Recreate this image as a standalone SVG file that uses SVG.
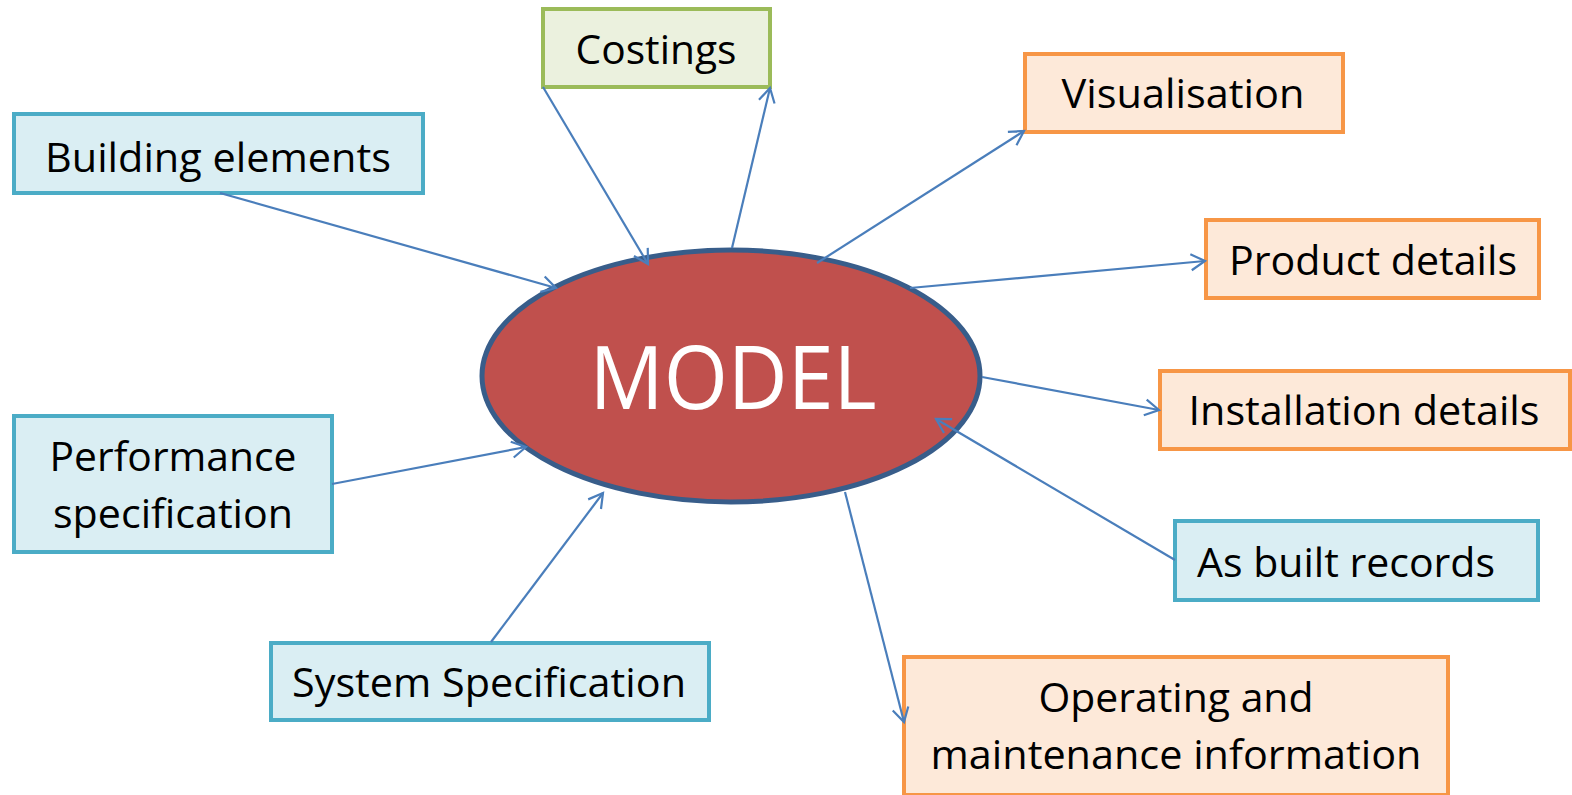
<svg xmlns="http://www.w3.org/2000/svg" width="1572" height="795" viewBox="0 0 1572 795">
<defs>
<marker id="arr" markerWidth="20" markerHeight="20" refX="17" refY="10" orient="auto" markerUnits="userSpaceOnUse">
<path d="M3,2 L17,10 L3,18" fill="none" stroke="#4a7ebb" stroke-width="2.2"/>
</marker>
<style>
.blue{fill:#daeef3;stroke:#4bacc6;stroke-width:4}
.orange{fill:#fde9d9;stroke:#f79646;stroke-width:4}
.green{fill:#ebf1de;stroke:#9bbb59;stroke-width:4}
.t{font-family:"Open Sans","Noto Sans",sans-serif;font-size:40px;fill:#000;text-anchor:middle}
.c{fill:none;stroke:#4a7ebb;stroke-width:2.2;marker-end:url(#arr)}
</style>
</defs>
<rect width="1572" height="795" fill="#fff"/>
<g id="model">
<ellipse cx="731" cy="376" rx="249" ry="126" fill="#c0504d" stroke="#385d8a" stroke-width="5"/>
<text x="733" y="409" font-family="Open Sans,Noto Sans,sans-serif" font-size="88" fill="#fff" text-anchor="middle" textLength="287" lengthAdjust="spacingAndGlyphs">MODEL</text>
</g>
<g id="costings">
<rect class="green" x="543" y="9" width="227" height="78"/>
<text class="t" x="656" y="64" textLength="161" lengthAdjust="spacingAndGlyphs">Costings</text>
</g>
<g id="visualisation">
<rect class="orange" x="1025" y="54" width="318" height="78"/>
<text class="t" x="1183" y="108" textLength="243" lengthAdjust="spacingAndGlyphs">Visualisation</text>
</g>
<g id="building-elements">
<rect class="blue" x="14" y="114" width="409" height="79"/>
<text class="t" x="218" y="172" textLength="346" lengthAdjust="spacingAndGlyphs">Building elements</text>
</g>
<g id="product-details">
<rect class="orange" x="1206" y="220" width="333" height="78"/>
<text class="t" x="1373" y="275" textLength="288" lengthAdjust="spacingAndGlyphs">Product details</text>
</g>
<g id="installation-details">
<rect class="orange" x="1160" y="371" width="410" height="78"/>
<text class="t" x="1364" y="425" textLength="351" lengthAdjust="spacingAndGlyphs">Installation details</text>
</g>
<g id="as-built-records">
<rect class="blue" x="1175" y="521" width="363" height="79"/>
<text class="t" x="1346" y="577" textLength="298" lengthAdjust="spacingAndGlyphs">As built records</text>
</g>
<g id="operating">
<rect class="orange" x="904" y="657" width="544" height="138"/>
<text class="t" x="1176" y="712" textLength="275" lengthAdjust="spacingAndGlyphs">Operating and</text>
<text class="t" x="1176" y="769" textLength="491" lengthAdjust="spacingAndGlyphs">maintenance information</text>
</g>
<g id="performance">
<rect class="blue" x="14" y="416" width="318" height="136"/>
<text class="t" x="173" y="471" textLength="247" lengthAdjust="spacingAndGlyphs">Performance</text>
<text class="t" x="173" y="528" textLength="240" lengthAdjust="spacingAndGlyphs">specification</text>
</g>
<g id="system-specification">
<rect class="blue" x="271" y="643" width="438" height="77"/>
<text class="t" x="489" y="697" textLength="394" lengthAdjust="spacingAndGlyphs">System Specification</text>
</g>
<g id="connectors">
<line class="c" x1="220" y1="193" x2="556" y2="288"/>
<line class="c" x1="543" y1="87" x2="648" y2="264"/>
<line class="c" x1="732" y1="248" x2="770" y2="88"/>
<line class="c" x1="817" y1="263" x2="1024" y2="131"/>
<line class="c" x1="910" y1="288" x2="1205" y2="261"/>
<line class="c" x1="982" y1="377" x2="1159" y2="410"/>
<line class="c" x1="1175" y1="560" x2="936" y2="419"/>
<line class="c" x1="845" y1="492" x2="904" y2="722"/>
<line class="c" x1="332" y1="484" x2="526" y2="447"/>
<line class="c" x1="491" y1="642" x2="603" y2="493"/>
</g>
</svg>
